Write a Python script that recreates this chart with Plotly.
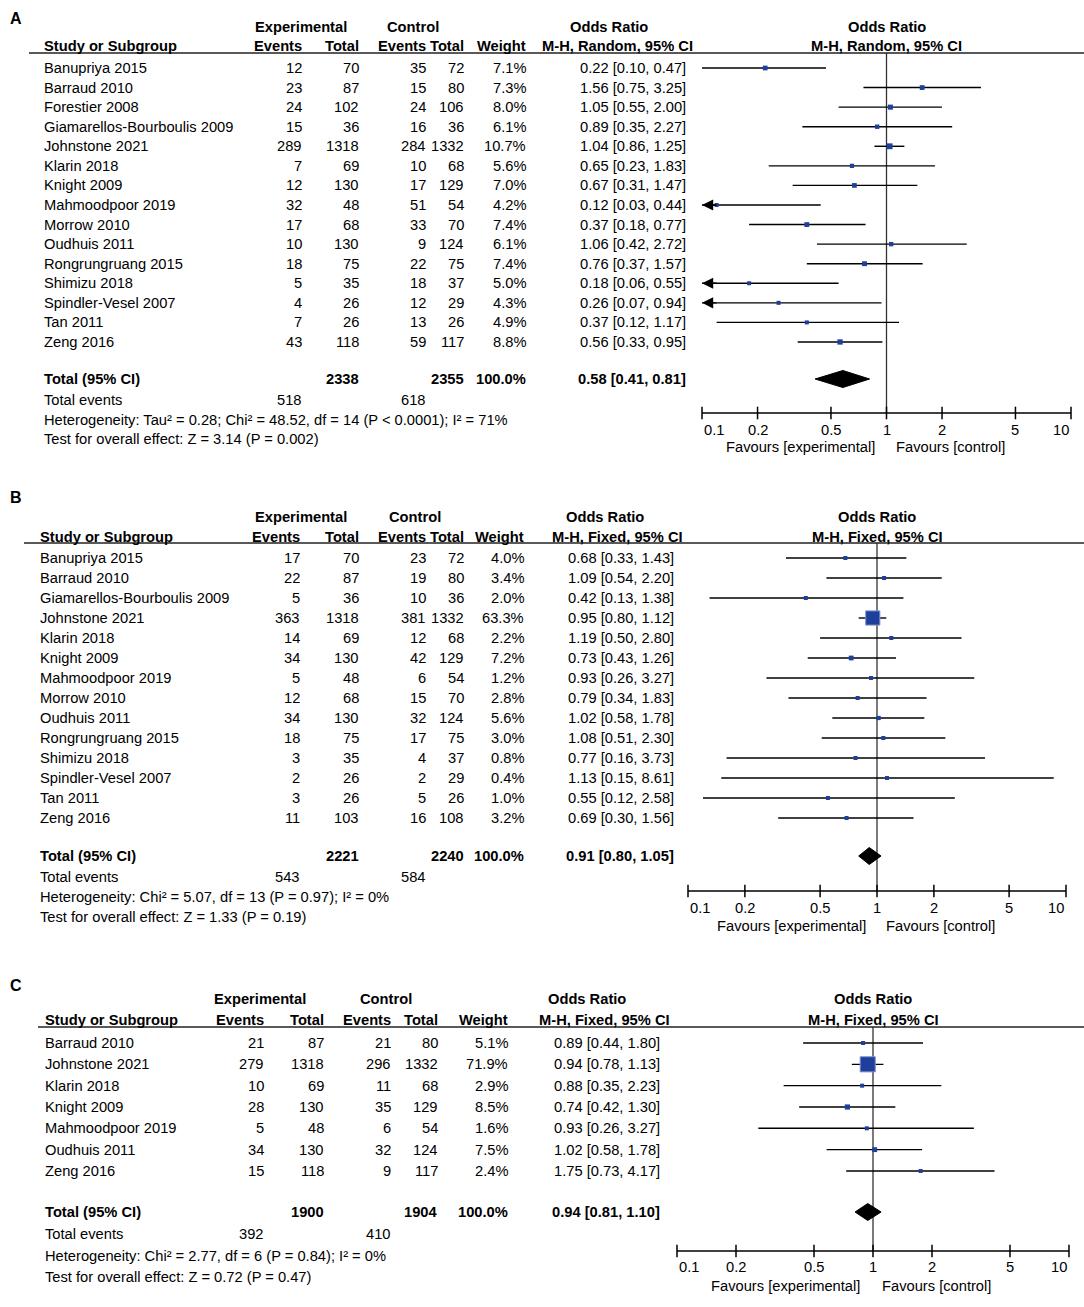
import math
import plotly.graph_objects as go

W, H = 1084, 1307

# ---------------- Panel A data ----------------
a_study = ["Banupriya 2015", "Barraud 2010", "Forestier 2008", "Giamarellos-Bourboulis 2009",
           "Johnstone 2021", "Klarin 2018", "Knight 2009", "Mahmoodpoor 2019", "Morrow 2010",
           "Oudhuis 2011", "Rongrungruang 2015", "Shimizu 2018", "Spindler-Vesel 2007",
           "Tan 2011", "Zeng 2016"]
a_exp_ev = [12, 23, 24, 15, 289, 7, 12, 32, 17, 10, 18, 5, 4, 7, 43]
a_exp_tot = [70, 87, 102, 36, 1318, 69, 130, 48, 68, 130, 75, 35, 26, 26, 118]
a_ctl_ev = [35, 15, 24, 16, 284, 10, 17, 51, 33, 9, 22, 18, 12, 13, 59]
a_ctl_tot = [72, 80, 106, 36, 1332, 68, 129, 54, 70, 124, 75, 37, 29, 26, 117]
a_weight = [7.1, 7.3, 8.0, 6.1, 10.7, 5.6, 7.0, 4.2, 7.4, 6.1, 7.4, 5.0, 4.3, 4.9, 8.8]
a_or = [0.22, 1.56, 1.05, 0.89, 1.04, 0.65, 0.67, 0.12, 0.37, 1.06, 0.76, 0.18, 0.26, 0.37, 0.56]
a_lo = [0.10, 0.75, 0.55, 0.35, 0.86, 0.23, 0.31, 0.03, 0.18, 0.42, 0.37, 0.06, 0.07, 0.12, 0.33]
a_hi = [0.47, 3.25, 2.00, 2.27, 1.25, 1.83, 1.47, 0.44, 0.77, 2.72, 1.57, 0.55, 0.94, 1.17, 0.95]
a_totals = [2338, 2355]
a_total_events = [518, 618]
a_pooled = [0.58, 0.41, 0.81]
a_method = "M-H, Random, 95% CI"
a_het = "Heterogeneity: Tau² = 0.28; Chi² = 48.52, df = 14 (P < 0.0001); I² = 71%"
a_test = "Test for overall effect: Z = 3.14 (P = 0.002)"

# ---------------- Panel B data ----------------
b_study = ["Banupriya 2015", "Barraud 2010", "Giamarellos-Bourboulis 2009", "Johnstone 2021",
           "Klarin 2018", "Knight 2009", "Mahmoodpoor 2019", "Morrow 2010", "Oudhuis 2011",
           "Rongrungruang 2015", "Shimizu 2018", "Spindler-Vesel 2007", "Tan 2011", "Zeng 2016"]
b_exp_ev = [17, 22, 5, 363, 14, 34, 5, 12, 34, 18, 3, 2, 3, 11]
b_exp_tot = [70, 87, 36, 1318, 69, 130, 48, 68, 130, 75, 35, 26, 26, 103]
b_ctl_ev = [23, 19, 10, 381, 12, 42, 6, 15, 32, 17, 4, 2, 5, 16]
b_ctl_tot = [72, 80, 36, 1332, 68, 129, 54, 70, 124, 75, 37, 29, 26, 108]
b_weight = [4.0, 3.4, 2.0, 63.3, 2.2, 7.2, 1.2, 2.8, 5.6, 3.0, 0.8, 0.4, 1.0, 3.2]
b_or = [0.68, 1.09, 0.42, 0.95, 1.19, 0.73, 0.93, 0.79, 1.02, 1.08, 0.77, 1.13, 0.55, 0.69]
b_lo = [0.33, 0.54, 0.13, 0.80, 0.50, 0.43, 0.26, 0.34, 0.58, 0.51, 0.16, 0.15, 0.12, 0.30]
b_hi = [1.43, 2.20, 1.38, 1.12, 2.80, 1.26, 3.27, 1.83, 1.78, 2.30, 3.73, 8.61, 2.58, 1.56]
b_totals = [2221, 2240]
b_total_events = [543, 584]
b_pooled = [0.91, 0.80, 1.05]
b_method = "M-H, Fixed, 95% CI"
b_het = "Heterogeneity: Chi² = 5.07, df = 13 (P = 0.97); I² = 0%"
b_test = "Test for overall effect: Z = 1.33 (P = 0.19)"

# ---------------- Panel C data ----------------
c_study = ["Barraud 2010", "Johnstone 2021", "Klarin 2018", "Knight 2009",
           "Mahmoodpoor 2019", "Oudhuis 2011", "Zeng 2016"]
c_exp_ev = [21, 279, 10, 28, 5, 34, 15]
c_exp_tot = [87, 1318, 69, 130, 48, 130, 118]
c_ctl_ev = [21, 296, 11, 35, 6, 32, 9]
c_ctl_tot = [80, 1332, 68, 129, 54, 124, 117]
c_weight = [5.1, 71.9, 2.9, 8.5, 1.6, 7.5, 2.4]
c_or = [0.89, 0.94, 0.88, 0.74, 0.93, 1.02, 1.75]
c_lo = [0.44, 0.78, 0.35, 0.42, 0.26, 0.58, 0.73]
c_hi = [1.80, 1.13, 2.23, 1.30, 3.27, 1.78, 4.17]
c_totals = [1900, 1904]
c_total_events = [392, 410]
c_pooled = [0.94, 0.81, 1.10]
c_method = "M-H, Fixed, 95% CI"
c_het = "Heterogeneity: Chi² = 2.77, df = 6 (P = 0.84); I² = 0%"
c_test = "Test for overall effect: Z = 0.72 (P = 0.47)"

tick_vals = [0.1, 0.2, 0.5, 1, 2, 5, 10]
tick_text = ["0.1", "0.2", "0.5", "1", "2", "5", "10"]

# ---------------- layout (pixel positions) ----------------
panels = [
    dict(letter="A", xa="x", ya="y",
         study=a_study, ee=a_exp_ev, et=a_exp_tot, ce=a_ctl_ev, ct=a_ctl_tot, w=a_weight,
         orr=a_or, lo=a_lo, hi=a_hi, totals=a_totals, tev=a_total_events, pooled=a_pooled,
         method=a_method, het=a_het, test=a_test,
         ptop=0, pbot=475, let_xy=(8, 18), hdr1=27, hdr2=46, line=53, line_x0=29,
         p0=68, s=19.57, total=379, events=400, hetp=420, testp=439,
         axis=413, ticklab=430, fav=447, fx0=702, fx1=1071,
         cx=dict(name=42, ee=304, et=361, ce=428, ct=466, wt=528, orr=688,
                 exp_h=301, ctl_h=413, or_h1=609, or_h2=617, fav_l=877, fav_r=894)),
    dict(letter="B", xa="x2", ya="y2",
         study=b_study, ee=b_exp_ev, et=b_exp_tot, ce=b_ctl_ev, ct=b_ctl_tot, w=b_weight,
         orr=b_or, lo=b_lo, hi=b_hi, totals=b_totals, tev=b_total_events, pooled=b_pooled,
         method=b_method, het=b_het, test=b_test,
         ptop=475, pbot=960, let_xy=(8, 498), hdr1=517, hdr2=537, line=543, line_x0=24,
         p0=558, s=20.0, total=856, events=877, hetp=897, testp=917,
         axis=891, ticklab=908, fav=926, fx0=688, fx1=1066,
         cx=dict(name=38, ee=302, et=361, ce=428, ct=466, wt=526, orr=676,
                 exp_h=301, ctl_h=415, or_h1=605, or_h2=617, fav_l=868, fav_r=884)),
    dict(letter="C", xa="x3", ya="y3",
         study=c_study, ee=c_exp_ev, et=c_exp_tot, ce=c_ctl_ev, ct=c_ctl_tot, w=c_weight,
         orr=c_or, lo=c_lo, hi=c_hi, totals=c_totals, tev=c_total_events, pooled=c_pooled,
         method=c_method, het=c_het, test=c_test,
         ptop=960, pbot=1307, let_xy=(8, 985), hdr1=999, hdr2=1020, line=1027, line_x0=38,
         p0=1043, s=21.33, total=1212, events=1234, hetp=1256, testp=1277,
         axis=1251, ticklab=1267, fav=1286, fx0=677, fx1=1069,
         cx=dict(name=43, ee=266, et=326, ce=393, ct=440, wt=510, orr=662,
                 exp_h=260, ctl_h=386, or_h1=587, or_h2=604, fav_l=862, fav_r=880)),
]

FONT = "Liberation Sans, Arial, sans-serif"
FS = 14.7
SQ_COLOR = "#1f3f9c"

fig = go.Figure()
annotations = []
shapes = []
layout_axes = {}


def fmt_ci(v):
    return f"{v[0]:.2f} [{v[1]:.2f}, {v[2]:.2f}]"


for k, P in enumerate(panels):
    xa, ya = P["xa"], P["ya"]
    xname = "xaxis" if k == 0 else f"xaxis{k+1}"
    yname = "yaxis" if k == 0 else f"yaxis{k+1}"
    p0, s = P["p0"], P["s"]

    def row(p, p0=p0, s=s):
        return (p - p0) / s

    layout_axes[xname] = dict(type="log", range=[-1, 1], domain=[P["fx0"] / W, P["fx1"] / W],
                              visible=False, anchor=ya, fixedrange=True)
    layout_axes[yname] = dict(range=[row(P["pbot"]), row(P["ptop"])],
                              domain=[1 - P["pbot"] / H, 1 - P["ptop"] / H],
                              visible=False, anchor=xa, fixedrange=True)

    def txt(text, xpx, y, anchor="left", bold=False, size=FS, yref=ya):
        annotations.append(dict(text=f"<b>{text}</b>" if bold else text,
                                x=xpx / W, xref="paper", y=y, yref=yref,
                                xanchor=anchor, yanchor="middle", showarrow=False,
                                font=dict(family=FONT, size=size, color="black")))

    cx = P["cx"]
    n = len(P["study"])
    rows = list(range(n))

    # panel letter
    txt(P["letter"], P["let_xy"][0], row(P["let_xy"][1]), bold=True, size=16)

    # headers
    h1, h2 = row(P["hdr1"]), row(P["hdr2"])
    txt("Experimental", cx["exp_h"], h1, "center", True)
    txt("Control", cx["ctl_h"], h1, "center", True)
    txt("Odds Ratio", cx["or_h1"], h1, "center", True)
    txt("Odds Ratio", (P["fx0"] + P["fx1"]) / 2, h1, "center", True)
    txt("Study or Subgroup", cx["name"], h2, "left", True)
    txt("Events", cx["ee"], h2, "right", True)
    txt("Total", cx["et"], h2, "right", True)
    txt("Events", cx["ce"], h2, "right", True)
    txt("Total", cx["ct"], h2, "right", True)
    txt("Weight", cx["wt"], h2, "right", True)
    txt(P["method"], cx["or_h2"], h2, "center", True)
    txt(P["method"], (P["fx0"] + P["fx1"]) / 2, h2, "center", True)

    shapes.append(dict(type="line", xref="paper", yref=ya, x0=P["line_x0"] / W, x1=1,
                       y0=row(P["line"]), y1=row(P["line"]),
                       line=dict(color="#222", width=1.5)))

    # study rows
    for i in rows:
        txt(P["study"][i], cx["name"], i)
        txt(str(P["ee"][i]), cx["ee"], i, "right")
        txt(str(P["et"][i]), cx["et"], i, "right")
        txt(str(P["ce"][i]), cx["ce"], i, "right")
        txt(str(P["ct"][i]), cx["ct"], i, "right")
        txt(f"{P['w'][i]:.1f}%", cx["wt"], i, "right")
        txt(fmt_ci([P["orr"][i], P["lo"][i], P["hi"][i]]), cx["orr"], i, "right")

    # totals
    tr = row(P["total"])
    txt("Total (95% CI)", cx["name"], tr, "left", True)
    txt(str(P["totals"][0]), cx["et"], tr, "right", True)
    txt(str(P["totals"][1]), cx["ct"], tr, "right", True)
    txt("100.0%", cx["wt"], tr, "right", True)
    txt(fmt_ci(P["pooled"]), cx["orr"], tr, "right", True)
    er = row(P["events"])
    txt("Total events", cx["name"], er)
    txt(str(P["tev"][0]), cx["ee"], er, "right")
    txt(str(P["tev"][1]), cx["ce"], er, "right")
    txt(P["het"], cx["name"], row(P["hetp"]))
    txt(P["test"], cx["name"], row(P["testp"]))

    # ---- forest plot ----
    ax_row = row(P["axis"])
    # null line
    fig.add_trace(go.Scatter(x=[1, 1], y=[row(P["line"]), ax_row], xaxis=xa, yaxis=ya,
                             mode="lines", line=dict(color="#333", width=1.3),
                             hoverinfo="skip", showlegend=False, cliponaxis=False))
    # CI lines
    lx, ly = [], []
    for i in rows:
        lx += [max(P["lo"][i], 0.1), min(P["hi"][i], 10), None]
        ly += [i, i, None]
    fig.add_trace(go.Scatter(x=lx, y=ly, xaxis=xa, yaxis=ya, mode="lines",
                             line=dict(color="black", width=1.4),
                             hoverinfo="skip", showlegend=False, cliponaxis=False))
    # arrows for truncated CIs
    for i in rows:
        if P["lo"][i] < 0.1:
            annotations.append(dict(text="", x=-1, y=i, xref=xa, yref=ya,
                                    ax=16, ay=0, showarrow=True, arrowhead=2,
                                    arrowsize=1.6, arrowwidth=1.4, arrowcolor="black"))
    # squares
    sizes = [max(4, 1.78 * math.sqrt(w)) for w in P["w"]]
    edge_col = ["#7d92cc" if w > 20 else SQ_COLOR for w in P["w"]]
    edge_w = [1.0 if w > 20 else 0 for w in P["w"]]
    fig.add_trace(go.Scatter(x=P["orr"], y=rows, xaxis=xa, yaxis=ya, mode="markers",
                             marker=dict(symbol="square", size=sizes, color=SQ_COLOR,
                                         opacity=1,
                                         line=dict(color=edge_col, width=edge_w)),
                             hoverinfo="skip", showlegend=False, cliponaxis=False))
    # diamond
    hh = 8.5 / s
    est, lo, hi = P["pooled"]
    fig.add_trace(go.Scatter(x=[lo, est, hi, est, lo], y=[tr, tr - hh, tr, tr + hh, tr],
                             xaxis=xa, yaxis=ya, mode="lines", fill="toself",
                             fillcolor="black", line=dict(color="black", width=1),
                             hoverinfo="skip", showlegend=False, cliponaxis=False))
    # axis line + ticks
    fig.add_trace(go.Scatter(x=[tick_vals[0], tick_vals[-1]], y=[ax_row, ax_row],
                             xaxis=xa, yaxis=ya, mode="lines",
                             line=dict(color="black", width=1.5),
                             hoverinfo="skip", showlegend=False, cliponaxis=False))
    fig.add_trace(go.Scatter(x=tick_vals, y=[ax_row] * len(tick_vals), xaxis=xa, yaxis=ya,
                             mode="markers",
                             marker=dict(symbol="line-ns", size=9,
                                         line=dict(color="black", width=1.5)),
                             hoverinfo="skip", showlegend=False, cliponaxis=False))
    tl = row(P["ticklab"])
    for j, (v, t) in enumerate(zip(tick_vals, tick_text)):
        anc = "left" if j == 0 else ("right" if j == len(tick_vals) - 1 else "center")
        annotations.append(dict(text=t, x=math.log10(v), y=tl, xref=xa, yref=ya,
                                xanchor=anc, yanchor="middle", showarrow=False,
                                font=dict(family=FONT, size=FS, color="black")))
    fr = row(P["fav"])
    txt("Favours [experimental]", cx["fav_l"], fr, "right")
    txt("Favours [control]", cx["fav_r"], fr, "left")

fig.update_layout(width=W, height=H, margin=dict(l=0, r=0, t=0, b=0, pad=0),
                  paper_bgcolor="white", plot_bgcolor="white",
                  annotations=annotations, shapes=shapes, showlegend=False,
                  **layout_axes)

fig.write_html("out.html", config={"displayModeBar": False, "staticPlot": True},
               post_script="document.body.style.margin='0';document.body.style.overflow='hidden';")
